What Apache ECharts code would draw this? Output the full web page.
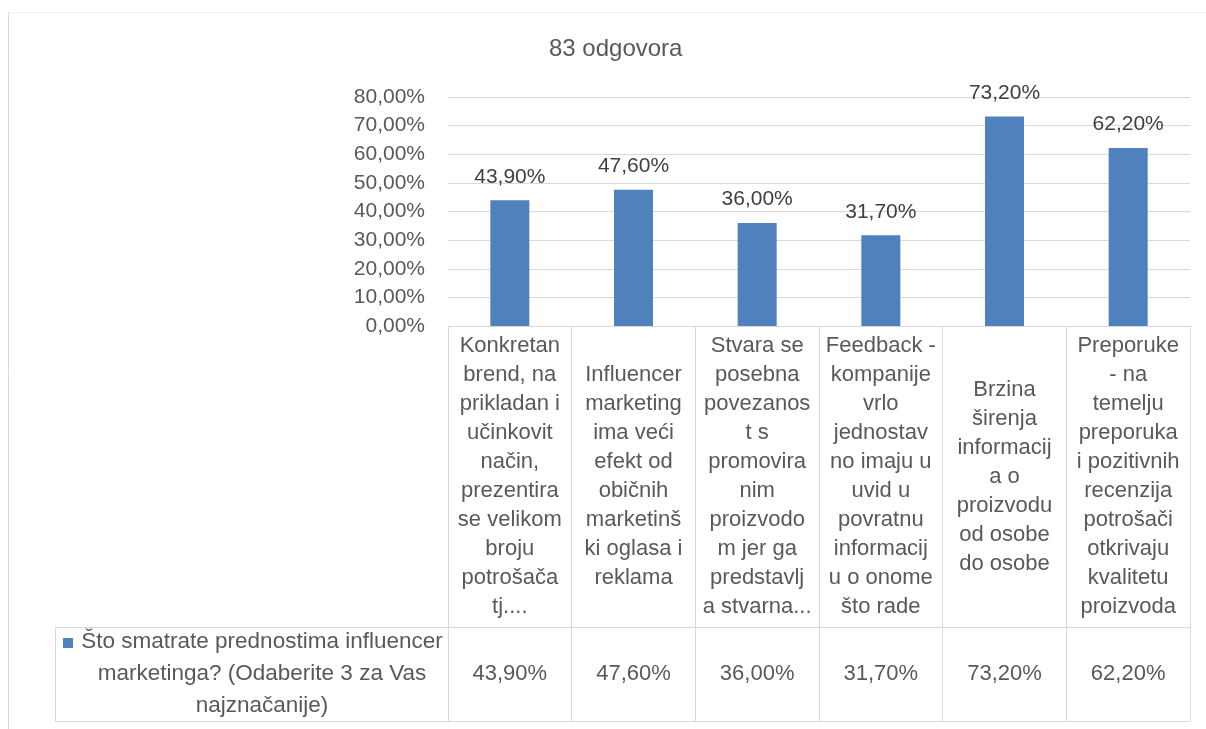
<!DOCTYPE html>
<html>
<head>
<meta charset="utf-8">
<script src="https://cdn.jsdelivr.net/npm/echarts@6/dist/echarts.min.js"></script>
<style>
    html, body { margin: 0; padding: 0; background: #fff; }
    #chart { width: 1206px; height: 729px; }
</style>
</head>
<body>
<div id="chart"></div>
<script>
    // data
    var chartTitle = '83 odgovora'
    var seriesName = 'Što smatrate prednostima influencer\nmarketinga? (Odaberite 3 za Vas\nnajznačanije)'
    var categories = [
        'Konkretan\nbrend, na\nprikladan i\nučinkovit\nnačin,\nprezentira\nse velikom\nbroju\npotrošača\ntj....',
        'Influencer\nmarketing\nima veći\nefekt od\nobičnih\nmarketinš\nki oglasa i\nreklama',
        'Stvara se\nposebna\npovezanos\nt s\npromovira\nnim\nproizvodo\nm jer ga\npredstavlj\na stvarna...',
        'Feedback -\nkompanije\nvrlo\njednostav\nno imaju u\nuvid u\npovratnu\ninformacij\nu o onome\nšto rade',
        'Brzina\nširenja\ninformacij\na o\nproizvodu\nod osobe\ndo osobe',
        'Preporuke\n- na\ntemelju\npreporuka\ni pozitivnih\nrecenzija\npotrošači\notkrivaju\nkvalitetu\nproizvoda'
    ]
    var values = [43.9, 47.6, 36.0, 31.7, 73.2, 62.2]
    var yMin = 0
    var yMax = 80
    var yStep = 10

    // layout
    var font = '"Liberation Sans", Arial, sans-serif'
    var textColor = '#595959'
    var lineColor = '#d9d9d9'
    var barColor = '#4f81bd'
    var plotLeft = 448, plotRight = 1190, plotTop = 97, plotBottom = 326
    var catRowBottom = 627, dataRowBottom = 721, headerLeft = 55

    function pct (v) {
        return v.toFixed(2).replace('.', ',') + '%'
    }

    var myChart = echarts.init(document.getElementById('chart'))
    var option = {
        animation: false,
        backgroundColor: '#fff',
        title: {
            text: chartTitle,
            left: 544,
            top: 32,
            textStyle: {
                color: textColor,
                fontSize: 24,
                fontWeight: 'normal',
                fontFamily: font
            }
        },
        grid: {
            left: plotLeft,
            right: 1206 - plotRight,
            top: plotTop,
            bottom: 729 - plotBottom
        },
        xAxis: [
            {
                type: 'category',
                data: categories,
                axisLine: { lineStyle: { color: lineColor, width: 1 } },
                axisTick: {
                    show: true,
                    interval: 0,
                    length: dataRowBottom - plotBottom,
                    lineStyle: { color: lineColor, width: 1 }
                },
                axisLabel: {
                    interval: 0,
                    margin: (catRowBottom - plotBottom) / 2,
                    verticalAlign: 'middle',
                    align: 'center',
                    lineHeight: 29,
                    fontSize: 22,
                    color: textColor,
                    fontFamily: font
                }
            },
            {
                type: 'category',
                data: categories,
                position: 'bottom',
                offset: catRowBottom - plotBottom,
                axisLine: { show: false },
                axisTick: { show: false },
                axisLabel: {
                    interval: 0,
                    margin: (dataRowBottom - catRowBottom) / 2,
                    verticalAlign: 'middle',
                    fontSize: 22,
                    color: textColor,
                    fontFamily: font,
                    formatter: function (v, i) {
                        return pct(values[i])
                    }
                }
            }
        ],
        yAxis: {
            type: 'value',
            min: yMin,
            max: yMax,
            interval: yStep,
            axisLine: { show: false },
            axisTick: { show: false },
            splitLine: { lineStyle: { color: lineColor, width: 1 } },
            axisLabel: {
                margin: 23,
                fontSize: 21,
                color: textColor,
                fontFamily: font,
                formatter: function (v) { return pct(v) }
            }
        },
        series: [
            {
                name: seriesName,
                type: 'bar',
                barWidth: 39,
                data: values,
                itemStyle: { color: barColor },
                label: {
                    show: true,
                    position: 'top',
                    distance: 13,
                    fontSize: 21,
                    color: '#404040',
                    fontFamily: font,
                    formatter: function (p) { return pct(p.value) }
                }
            }
        ],
        graphic: [
            // outer chart frame
            { type: 'line', shape: { x1: 8.5, y1: 12, x2: 8.5, y2: 729 }, style: { stroke: lineColor, lineWidth: 1 } },
            { type: 'line', shape: { x1: 8, y1: 12.5, x2: 1206, y2: 12.5 }, style: { stroke: '#f0f0f0', lineWidth: 1 } },
            // data table
            { type: 'line', shape: { x1: headerLeft, y1: catRowBottom + 0.5, x2: plotRight, y2: catRowBottom + 0.5 }, style: { stroke: lineColor, lineWidth: 1 } },
            { type: 'line', shape: { x1: headerLeft, y1: dataRowBottom + 0.5, x2: plotRight, y2: dataRowBottom + 0.5 }, style: { stroke: lineColor, lineWidth: 1 } },
            { type: 'line', shape: { x1: headerLeft + 0.5, y1: catRowBottom, x2: headerLeft + 0.5, y2: dataRowBottom }, style: { stroke: lineColor, lineWidth: 1 } },
            // legend key + series name
            { type: 'rect', shape: { x: 63, y: 638, width: 10, height: 10 }, style: { fill: barColor } },
            {
                type: 'text',
                x: 262,
                y: (catRowBottom + dataRowBottom) / 2,
                style: {
                    text: seriesName,
                    align: 'center',
                    verticalAlign: 'middle',
                    fontSize: 22.5,
                    lineHeight: 32,
                    fill: textColor,
                    fontFamily: font
                }
            }
        ]
    }
    myChart.setOption(option)
</script>
</body>
</html>
